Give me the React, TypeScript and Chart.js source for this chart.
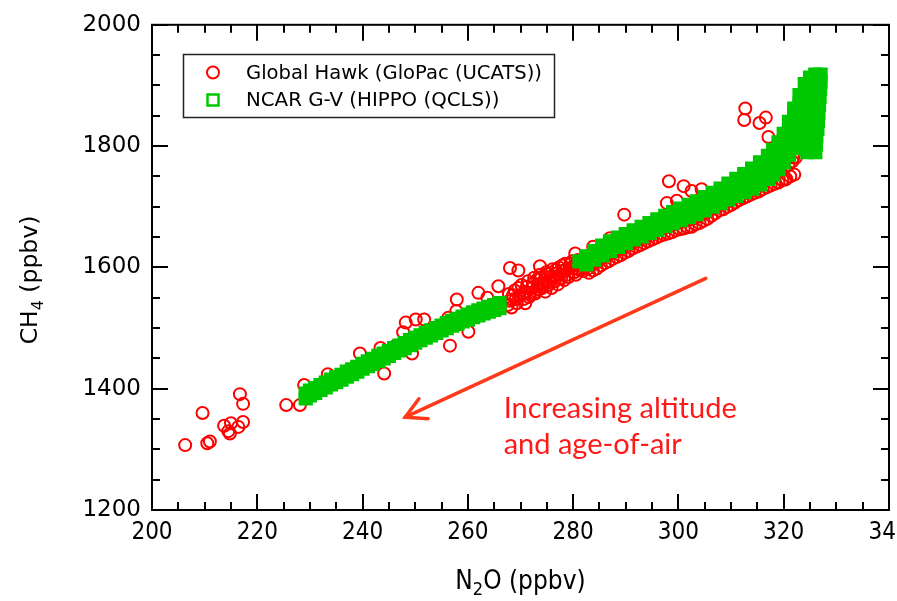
import { useEffect, useRef } from "react";
import { Chart, registerables } from "chart.js";

Chart.register(...registerables);

type P = [number, number];

// ---- axes ----
const X_MIN = 200;
const X_MAX = 340;
const X_STEP = 20;
const X_MINOR = 5;
const Y_MIN = 1200;
const Y_MAX = 2000;
const Y_STEP = 200;
const Y_MINOR = 50;

// ---- Global Hawk (GloPac (UCATS)) : [N2O, CH4] ----
const hawkLow: P[] = [
  [206.3, 1307], [209.6, 1360], [210.5, 1310], [211, 1313], [213.7, 1339], [215, 1343],
  [214.8, 1326], [214.5, 1330], [216.4, 1337], [217.3, 1345], [216.7, 1391], [217.3, 1375],
  [225.5, 1373], [228.1, 1373], [228.9, 1406], [233.4, 1424], [239.5, 1458], [243.4, 1467],
  [244.1, 1425], [246.3, 1471], [247.7, 1493], [248.2, 1509], [250.1, 1514], [251.7, 1514],
  [249.4, 1458], [256.3, 1517], [257.9, 1547], [257.8, 1528], [256.6, 1471], [260.1, 1494],
  [262, 1558], [263.7, 1550], [265.8, 1569], [268, 1599], [269.6, 1595], [273.7, 1602],
  [268.3, 1534],
];

const hawkJunction: P[] = [
  [267.6, 1538], [267.8, 1556], [268.4, 1547], [268.9, 1562], [269.3, 1541], [269.8, 1553],
  [270.2, 1571], [270.6, 1548], [271.0, 1560], [271.4, 1577], [271.8, 1555], [272.2, 1566],
  [272.6, 1583], [273.0, 1560], [273.3, 1572], [273.7, 1588], [274.1, 1566], [274.5, 1579],
  [274.9, 1592], [275.3, 1571], [275.7, 1584], [276.1, 1597], [276.5, 1577], [276.9, 1590],
  [277.3, 1600], [277.7, 1582], [278.1, 1594], [278.5, 1606], [278.9, 1588], [279.3, 1599],
  [279.8, 1610], [280.2, 1592], [280.7, 1603], [281.2, 1596], [281.7, 1612], [282.2, 1600],
  [267.9, 1545], [268.6, 1554], [269.1, 1548], [269.6, 1566], [270.4, 1556], [270.9, 1541],
  [271.2, 1568], [271.6, 1551], [272.4, 1574], [272.8, 1557], [273.2, 1580], [273.5, 1564],
  [273.9, 1582], [274.3, 1572], [274.7, 1560], [275.1, 1589], [275.5, 1576], [275.9, 1566],
  [276.3, 1583], [276.7, 1596], [277.1, 1572], [277.5, 1588], [277.9, 1603], [278.3, 1579],
  [278.7, 1597], [279.1, 1584], [279.5, 1606], [280.0, 1598], [280.5, 1588], [280.9, 1612],
  [281.4, 1604], [281.9, 1594], [282.4, 1609], [282.8, 1598],
];

const hawkBandLower: P[] = [
  [283.0, 1591], [283.75, 1595], [284.5, 1598], [285.25, 1603], [286.0, 1607], [286.75, 1610],
  [287.5, 1614], [288.25, 1617], [289.0, 1620], [289.75, 1624], [290.5, 1627], [291.25, 1631],
  [292.0, 1634], [292.75, 1637], [293.5, 1640], [294.25, 1643], [295.0, 1646], [295.75, 1649],
  [296.5, 1652], [297.25, 1654], [298.0, 1656], [298.75, 1658], [299.5, 1661], [300.25, 1663],
  [301.0, 1664], [301.75, 1666], [302.5, 1667], [303.25, 1671], [304.0, 1673], [304.75, 1677],
  [305.5, 1680], [306.25, 1685], [307.0, 1689], [307.75, 1694], [308.5, 1696], [309.25, 1700],
  [310.0, 1703], [310.75, 1707], [311.5, 1711], [312.25, 1714], [313.0, 1717], [313.75, 1720],
  [314.5, 1723], [315.25, 1725], [316.0, 1729], [316.75, 1732], [317.5, 1735], [318.25, 1738],
  [319.0, 1740], [319.75, 1744], [320.5, 1746], [321.25, 1750], [322.0, 1753],
];

const hawkBandUpper: P[] = [
  [283.4, 1604], [284.15, 1608], [284.9, 1612], [285.65, 1616], [286.4, 1620], [287.15, 1623],
  [287.9, 1627], [288.65, 1630], [289.4, 1633], [290.15, 1637], [290.9, 1640], [291.65, 1643],
  [292.4, 1646], [293.15, 1649], [293.9, 1652], [294.65, 1655], [295.4, 1658], [296.15, 1661],
  [296.9, 1664], [297.65, 1666], [298.4, 1668], [299.15, 1671], [299.9, 1673], [300.65, 1675],
  [301.4, 1677], [302.15, 1679], [302.9, 1681], [303.65, 1684], [304.4, 1687], [305.15, 1690],
  [305.9, 1694], [306.65, 1698], [307.4, 1702], [308.15, 1706], [308.9, 1709], [309.65, 1713],
  [310.4, 1716], [311.15, 1720], [311.9, 1724], [312.65, 1727], [313.4, 1730], [314.15, 1733],
  [314.9, 1736], [315.65, 1739], [316.4, 1743], [317.15, 1747], [317.9, 1751], [318.65, 1755],
  [319.4, 1759], [320.15, 1764], [320.9, 1769], [321.65, 1775], [322.3, 1781],
];

const hawkHigh: P[] = [
  [280.4, 1623], [283.8, 1634], [287, 1648], [289.7, 1687], [297.8, 1706], [299.7, 1710],
  [298.2, 1742], [301, 1734], [302.5, 1726], [304.4, 1729], [312.7, 1862], [312.5, 1843],
  [315.4, 1838], [316.6, 1847], [317.1, 1815], [321.8, 1781], [320.3, 1745],
];

// ---- NCAR G-V (HIPPO (QCLS)) : [N2O, CH4] ----
const hippoLowBranch: P[] = [
  [229.2, 1392], [229.2, 1384], [230, 1397], [230, 1389], [231, 1401], [231, 1393],
  [232, 1406], [232, 1398], [233, 1410], [233, 1402], [234, 1415], [234, 1407],
  [235, 1419], [235, 1411], [236, 1423], [236, 1415], [237, 1428], [237, 1420],
  [238, 1432], [238, 1424], [239, 1436], [239, 1428], [240, 1441], [240, 1433],
  [241, 1445], [241, 1437], [242, 1449], [242, 1441], [243, 1454], [243, 1446],
  [244, 1458], [244, 1450], [245, 1462], [245, 1454], [246, 1467], [246, 1459],
  [247, 1471], [247, 1463], [248, 1475], [248, 1467], [249, 1480], [249, 1472],
  [250, 1484], [250, 1476], [251, 1488], [251, 1480], [252, 1492], [252, 1484],
  [253, 1496], [253, 1488], [254, 1500], [254, 1492], [255, 1504], [255, 1496],
  [256, 1508], [256, 1500], [257, 1512], [257, 1504], [258, 1515], [258, 1507],
  [259, 1519], [259, 1511], [260, 1522], [260, 1514], [261, 1526], [261, 1518],
  [262, 1529], [262, 1521], [263, 1532], [263, 1524], [264, 1535], [264, 1527],
  [265, 1538], [265, 1530], [266, 1541], [266, 1533],
];

const hippoHighTop: P[] = [
  [281.2, 1610], [282.5, 1618], [284, 1627], [285.5, 1636], [287, 1643], [288.5, 1649],
  [290, 1655], [291.5, 1661], [293, 1667], [294.5, 1673], [296, 1679], [297.5, 1685],
  [299, 1691], [300.5, 1697], [302, 1703], [303.5, 1709], [305, 1716], [306.5, 1723],
  [308, 1730], [309.5, 1738], [311, 1746], [312.5, 1754], [314, 1763], [315.5, 1773],
  [317, 1784], [318, 1794], [319, 1806], [320, 1820], [321, 1840], [322, 1862],
  [323, 1884], [324, 1902], [325, 1913], [326, 1918], [327, 1918],
];

const hippoHighBottom: P[] = [
  [282.5, 1605], [284, 1613], [285.5, 1620], [287, 1627], [288.5, 1634], [290, 1640],
  [291.5, 1646], [293, 1651], [294.5, 1657], [296, 1662], [297.5, 1668], [299, 1673],
  [300.5, 1678], [302, 1683], [303.5, 1688], [305, 1694], [306.5, 1700], [308, 1706],
  [309.5, 1712], [311, 1718], [312.5, 1724], [314, 1730], [315.5, 1737], [317, 1746],
  [318, 1753], [319, 1762], [320, 1773], [321, 1786], [322, 1798], [323, 1797],
];

const hippoHighMiddle: P[] = [
  [308, 1718], [309.5, 1725], [311, 1732], [312.5, 1739], [314, 1747], [315.5, 1755],
  [317, 1765], [318, 1773], [319, 1784], [320, 1796], [320, 1808], [321, 1800],
  [321, 1813], [321, 1826], [322, 1812], [322, 1826], [322, 1840], [322, 1852],
  [323, 1812], [323, 1826], [323, 1840], [323, 1855], [323, 1870],
];

const hippoColumn: P[] = [
  [324.5, 1790], [326, 1790], [324.6, 1803], [326.1, 1803], [324.8, 1816], [326.2, 1816],
  [324.9, 1829], [326.4, 1829], [325.1, 1842], [326.5, 1842], [325.2, 1855], [326.6, 1855],
  [325.4, 1868], [326.7, 1868], [325.6, 1881], [326.8, 1881], [325.8, 1894], [326.9, 1894],
  [326, 1906], [327, 1906], [324, 1800], [324, 1815], [324, 1830], [324, 1845],
  [324, 1860], [324, 1875], [324.5, 1888],
];

// ---- texts ----
const legendLabels = ["Global Hawk (GloPac (UCATS))", "NCAR G-V (HIPPO (QCLS))"];
const noteLines = ["Increasing altitude", "and age-of-air"];
const noteAnchors: P[] = [[266.8, 1351], [266.8, 1292]];
const arrowTail: P = [305.2, 1582];
const arrowHead: P = [248.1, 1353];

const RED = "#ff0000";
const GREEN = "#00c800";
const NOTE_RED = "#ff1a1a";
const ARROW_RED = "#ff3a1a";
const SANS = '"DejaVu Sans", sans-serif';
const COND = '"DejaVu Sans Condensed", "DejaVu Sans", sans-serif';

const toPts = (arr: P[]) => arr.map(([x, y]) => ({ x, y }));

const decor = {
  id: "decor",
  afterDatasetsDraw(chart: any) {
    const { ctx, scales } = chart;
    const xs = scales.x;
    const ys = scales.y;
    ctx.save();
    const x1 = xs.getPixelForValue(arrowTail[0]);
    const y1 = ys.getPixelForValue(arrowTail[1]);
    const x2 = xs.getPixelForValue(arrowHead[0]);
    const y2 = ys.getPixelForValue(arrowHead[1]);
    ctx.strokeStyle = ARROW_RED;
    ctx.lineWidth = 3.5;
    ctx.lineCap = "round";
    ctx.beginPath();
    ctx.moveTo(x1, y1);
    ctx.lineTo(x2, y2);
    ctx.stroke();
    const ang = Math.atan2(y1 - y2, x1 - x2);
    const L = 23;
    const sp = 0.5;
    ctx.beginPath();
    ctx.moveTo(x2 + L * Math.cos(ang + sp), y2 + L * Math.sin(ang + sp));
    ctx.lineTo(x2, y2);
    ctx.lineTo(x2 + L * Math.cos(ang - sp), y2 + L * Math.sin(ang - sp));
    ctx.stroke();
    ctx.fillStyle = NOTE_RED;
    ctx.font = '29px Lato, "Open Sans", sans-serif';
    ctx.textAlign = "left";
    ctx.textBaseline = "alphabetic";
    noteLines.forEach((t, i) => {
      ctx.fillText(t, xs.getPixelForValue(noteAnchors[i][0]), ys.getPixelForValue(noteAnchors[i][1]));
    });
    ctx.restore();
  },
  afterDraw(chart: any) {
    const { ctx, chartArea: a, scales } = chart;
    const xs = scales.x;
    const ys = scales.y;
    ctx.save();
    ctx.strokeStyle = "#000";
    ctx.lineWidth = 2;
    ctx.lineCap = "butt";
    ctx.beginPath();
    for (let v = X_MIN; v <= X_MAX; v += X_MINOR) {
      const px = Math.round(xs.getPixelForValue(v));
      const len = v % X_STEP === 0 ? 16 : 8;
      ctx.moveTo(px, a.bottom);
      ctx.lineTo(px, a.bottom - len);
      ctx.moveTo(px, a.top);
      ctx.lineTo(px, a.top + len);
    }
    for (let v = Y_MIN; v <= Y_MAX; v += Y_MINOR) {
      const py = Math.round(ys.getPixelForValue(v));
      const len = v % Y_STEP === 0 ? 16 : 8;
      ctx.moveTo(a.left, py);
      ctx.lineTo(a.left + len, py);
      ctx.moveTo(a.right, py);
      ctx.lineTo(a.right - len, py);
    }
    ctx.stroke();
    ctx.strokeRect(a.left, a.top, a.right - a.left, a.bottom - a.top);

    // legend
    const lx = 183.5, ly = 54.5, lw = 371, lh = 63;
    ctx.fillStyle = "#fff";
    ctx.fillRect(lx, ly, lw, lh);
    ctx.lineWidth = 1.5;
    ctx.strokeStyle = "#222";
    ctx.strokeRect(lx, ly, lw, lh);
    const rows = [72.5, 100];
    ctx.lineWidth = 2;
    ctx.strokeStyle = RED;
    ctx.beginPath();
    ctx.arc(213, rows[0], 6, 0, Math.PI * 2);
    ctx.stroke();
    ctx.strokeStyle = GREEN;
    ctx.lineWidth = 2.5;
    ctx.strokeRect(207.5, rows[1] - 5.5, 11, 11);
    ctx.fillStyle = "#000";
    ctx.font = "19.8px " + SANS;
    ctx.textAlign = "left";
    ctx.textBaseline = "middle";
    legendLabels.forEach((t, i) => ctx.fillText(t, 246, rows[i] + 1, 296));

    // y title with subscript
    const cx = (a.left + a.right) / 2;
    ctx.save();
    ctx.translate(29, 280);
    ctx.rotate(-Math.PI / 2);
    const big = "23.5px " + SANS;
    const small = "16px " + SANS;
    ctx.font = big;
    const w1 = ctx.measureText("CH").width;
    const w3 = ctx.measureText(" (ppbv)").width;
    ctx.font = small;
    const w2 = ctx.measureText("4").width;
    const s = -(w1 + w2 + w3) / 2;
    ctx.textAlign = "left";
    ctx.textBaseline = "alphabetic";
    ctx.font = big;
    ctx.fillText("CH", s, 8);
    ctx.font = small;
    ctx.fillText("4", s + w1, 14);
    ctx.font = big;
    ctx.fillText(" (ppbv)", s + w1 + w2, 8);
    ctx.restore();

    // x title with subscript
    const xb = "26px " + COND;
    const xsm = "18px " + COND;
    ctx.font = xb;
    const n1 = ctx.measureText("N").width;
    const n3 = ctx.measureText("O (ppbv)").width;
    ctx.font = xsm;
    const n2 = ctx.measureText("2").width;
    const xs0 = cx - (n1 + n2 + n3) / 2;
    const base = 589;
    ctx.textAlign = "left";
    ctx.textBaseline = "alphabetic";
    ctx.font = xb;
    ctx.fillText("N", xs0, base);
    ctx.font = xsm;
    ctx.fillText("2", xs0 + n1, base + 6);
    ctx.font = xb;
    ctx.fillText("O (ppbv)", xs0 + n1 + n2, base);
    ctx.restore();
  },
};

export default function App() {
  const ref = useRef<HTMLCanvasElement | null>(null);
  useEffect(() => {
    if (!ref.current) return;
    const hawk = [...hawkLow, ...hawkJunction, ...hawkBandLower, ...hawkBandUpper, ...hawkHigh];
    const hippo = [...hippoLowBranch, ...hippoHighBottom, ...hippoHighMiddle, ...hippoHighTop, ...hippoColumn];
    const chart = new Chart(ref.current, {
      type: "scatter",
      data: {
        datasets: [
          {
            label: legendLabels[0],
            data: toPts(hawk),
            pointStyle: "circle",
            pointRadius: 6,
            borderWidth: 2,
            borderColor: RED,
            backgroundColor: "rgba(0,0,0,0)",
            order: 1,
          },
          {
            label: legendLabels[1],
            data: toPts(hippo),
            pointStyle: "rect",
            pointRadius: 9,
            borderWidth: 1.5,
            borderColor: GREEN,
            backgroundColor: GREEN,
            order: 0,
          },
        ],
      },
      options: {
        responsive: false,
        animation: false,
        devicePixelRatio: 1,
        events: [],
        layout: { padding: { left: 0, top: 18, right: 41, bottom: 0 } },
        plugins: { legend: { display: false }, tooltip: { enabled: false } },
        scales: {
          x: {
            type: "linear",
            min: X_MIN,
            max: X_MAX,
            grid: { display: false, drawTicks: false },
            border: { display: false },
            ticks: {
              stepSize: X_STEP,
              padding: 8,
              color: "#000",
              autoSkip: false,
              maxRotation: 0,
              font: { family: COND, size: 24 },
              callback: (v: any) => String(v),
            },
            afterFit: (s: any) => {
              s.height = 91;
            },
          },
          y: {
            type: "linear",
            min: Y_MIN,
            max: Y_MAX,
            grid: { display: false, drawTicks: false },
            border: { display: false },
            ticks: {
              stepSize: Y_STEP,
              padding: 11,
              color: "#000",
              autoSkip: false,
              font: { family: SANS, size: 23 },
              callback: (v: any) => String(v),
            },
            afterFit: (s: any) => {
              s.width = 152;
            },
          },
        },
      },
      plugins: [decor],
    });
    return () => chart.destroy();
  }, []);

  return (
    <div
      style={{
        position: "fixed",
        left: 0,
        top: 0,
        width: 897,
        height: 601,
        overflow: "hidden",
        background: "#fff",
      }}
    >
      <canvas ref={ref} width={930} height={601} style={{ display: "block", width: 930, height: 601 }} />
    </div>
  );
}
